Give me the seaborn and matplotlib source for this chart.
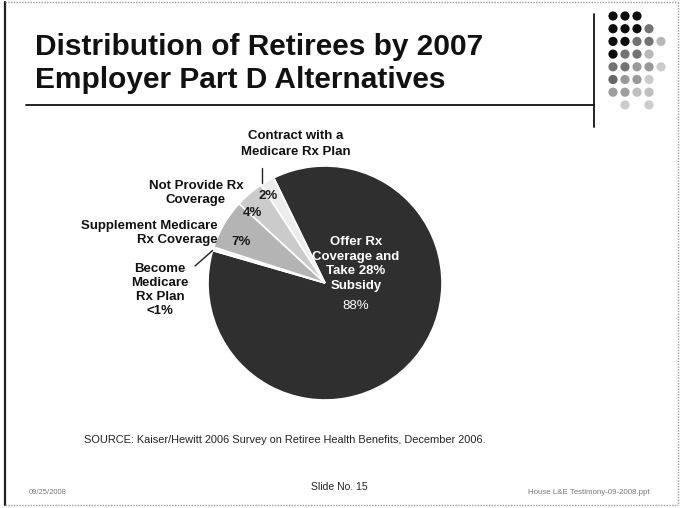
import matplotlib
matplotlib.use("Agg")
import numpy as np
import matplotlib.pyplot as plt
import seaborn as sns

# Slide canvas size in pixels
W, H = 681, 508

# Pie data (clockwise from the top-left edge of the largest slice)
slice_names = [
    "Offer Rx\nCoverage and\nTake 28%\nSubsidy",
    "Become\nMedicare\nRx Plan",
    "Supplement Medicare\nRx Coverage",
    "Not Provide Rx\nCoverage",
    "Contract with a\nMedicare Rx Plan",
]
slice_values = [88, 0.5, 7, 4, 2]
slice_pct_text = ["88%", "<1%", "7%", "4%", "2%"]
slice_greys = ["#2f2f2f", "#f2f2f2", "#b4b4b4", "#cbcbcb", "#ececec"]

title_lines = ["Distribution of Retirees by 2007", "Employer Part D Alternatives"]
source_text = "SOURCE: Kaiser/Hewitt 2006 Survey on Retiree Health Benefits, December 2006."
footer_date = "09/25/2008"
footer_slide = "Slide No. 15"
footer_file = "House L&E Testimony-09-2008.ppt"

# Decorative dot grid: grey level per dot (None = empty position)
dot_rows = [
    [0.05, 0.05, 0.05],
    [0.05, 0.05, 0.05, 0.45],
    [0.05, 0.05, 0.45, 0.45, 0.72],
    [0.05, 0.45, 0.45, 0.72],
    [0.45, 0.45, 0.6, 0.6, 0.8],
    [0.4, 0.6, 0.6, 0.8],
    [0.62, 0.62, 0.75, 0.75],
    [None, 0.8, None, 0.8],
]

sns.set_theme(style="white")
plt.rcParams["font.family"] = ["Liberation Sans", "DejaVu Sans"]

fig = plt.figure(figsize=(W / 100, H / 100), dpi=100)
fig.patch.set_facecolor("white")
ax = fig.add_axes([0, 0, 1, 1])


def Y(v):
    """Convert a top-down pixel row into axis coordinates."""
    return H - v


# ---- pie ----
cx, cy, R = 325, Y(283), 117
wedges, _ = ax.pie(
    slice_values,
    colors=slice_greys,
    startangle=116,
    counterclock=False,
    center=(cx, cy),
    radius=R,
    wedgeprops=dict(edgecolor="white", linewidth=1.2),
)

ax.set_xlim(0, W)
ax.set_ylim(0, H)
ax.set_aspect("equal")
ax.axis("off")

# percentages inside the small slices (angle in degrees, radius fraction)
inner_pos = {2: (154, 0.80), 3: (136, 0.86), 4: (123, 0.89)}
for i, (ang, frac) in inner_pos.items():
    t = np.deg2rad(ang)
    ax.text(cx + R * frac * np.cos(t), cy + R * frac * np.sin(t),
            slice_pct_text[i], ha="center", va="center",
            fontsize=9.5, fontweight="bold", color="#1a1a1a")

# big slice label
ax.text(356, Y(264), slice_names[0], ha="center", va="center", color="white",
        fontsize=9.5, fontweight="bold", linespacing=1.32)
ax.text(356, Y(306), slice_pct_text[0], ha="center", va="center",
        color="white", fontsize=9.5)

# outside labels
lab = dict(fontsize=9.5, fontweight="bold", color="#111111")
ax.text(296, Y(144), slice_names[4], ha="center", va="center",
        linespacing=1.45, **lab)
ax.text(196, Y(193), slice_names[3], ha="center", va="center",
        linespacing=1.2, **lab)
ax.text(218, Y(233), slice_names[2], ha="right", va="center",
        multialignment="right", linespacing=1.2, **lab)
ax.text(160, Y(290), slice_names[1] + "\n" + slice_pct_text[1],
        ha="center", va="center", linespacing=1.25, **lab)

# leader lines
ax.plot([262, 262], [Y(168), Y(183)], color="#222222", lw=1.0)
a = np.deg2rad(wedges[1].theta2)
ax.plot([195, cx + R * np.cos(a)], [Y(266), cy + R * np.sin(a)],
        color="#222222", lw=1.0)

# ---- title block ----
ax.text(35, Y(55), title_lines[0], ha="left", va="baseline",
        fontsize=21.5, fontweight="bold", color="#111111")
ax.text(35, Y(88), title_lines[1], ha="left", va="baseline",
        fontsize=21.5, fontweight="bold", color="#111111")
ax.plot([26, 594], [Y(105), Y(105)], color="#111111", lw=1.3)
ax.plot([594, 594], [Y(14), Y(127)], color="#111111", lw=1.3)

# dot decoration
for r, row in enumerate(dot_rows):
    for c, g in enumerate(row):
        if g is None:
            continue
        ax.scatter(613 + 12 * c, Y(16 + 12.7 * r), s=44,
                   color=str(g), edgecolors="none")

# ---- source & footer ----
ax.text(84, Y(440), source_text, ha="left", va="center",
        fontsize=7.9, color="#222222")
ax.text(29, Y(492), footer_date, ha="left", va="center",
        fontsize=5.5, color="#777777")
ax.text(339, Y(487), footer_slide, ha="center", va="center",
        fontsize=7.5, color="#222222")
ax.text(650, Y(493), footer_file, ha="right", va="center",
        fontsize=5.7, color="#777777")

# slide border
ax.plot([5, 5], [Y(2), Y(505)], color="#222222", lw=1.6)
ax.plot([5, 678], [Y(2), Y(2)], color="#999999", lw=1.0, ls=(0, (1, 1)))
ax.plot([5, 678], [Y(505), Y(505)], color="#999999", lw=1.0, ls=(0, (1, 1)))
ax.plot([678, 678], [Y(2), Y(505)], color="#999999", lw=1.0, ls=(0, (1, 1)))

fig.savefig("out.png", dpi=100, facecolor="white")
